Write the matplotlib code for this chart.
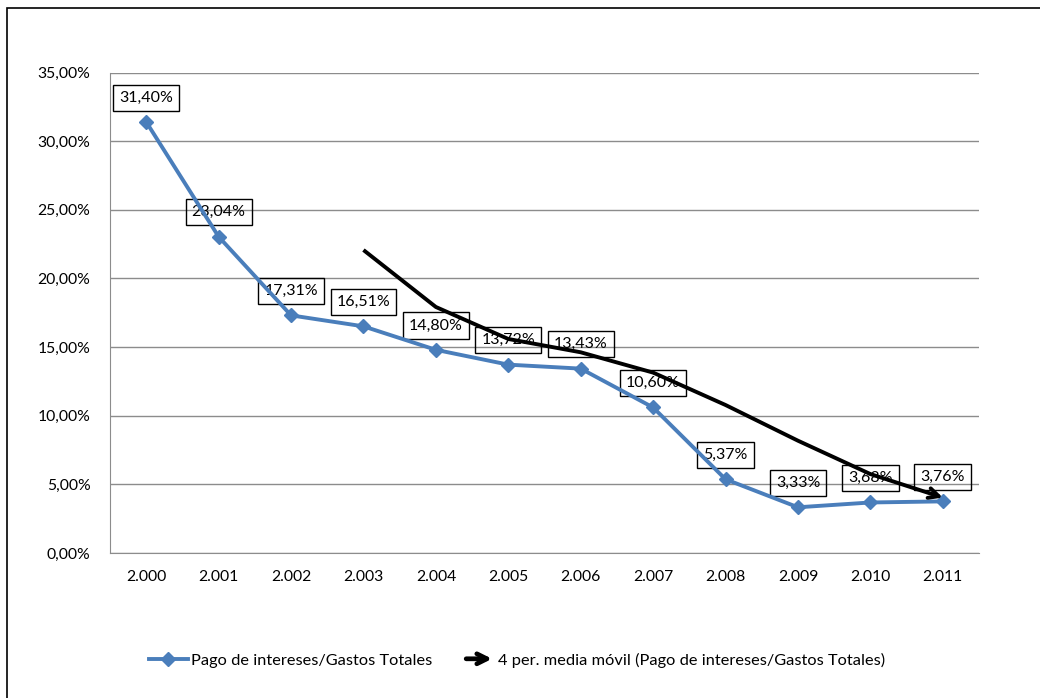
import matplotlib
matplotlib.use("Agg")
import matplotlib.pyplot as plt
from matplotlib.lines import Line2D
from matplotlib.patches import FancyArrowPatch, Rectangle
from matplotlib.legend_handler import HandlerBase
from matplotlib.ticker import FuncFormatter, MultipleLocator

plt.rcParams['font.family'] = ['Lato', 'DejaVu Sans']

years = ["2.000", "2.001", "2.002", "2.003", "2.004", "2.005",
         "2.006", "2.007", "2.008", "2.009", "2.010", "2.011"]
pago = [31.40, 23.04, 17.31, 16.51, 14.80, 13.72, 13.43, 10.60, 5.37, 3.33, 3.68, 3.76]
labels = ["31,40%", "23,04%", "17,31%", "16,51%", "14,80%", "13,72%",
          "13,43%", "10,60%", "5,37%", "3,33%", "3,68%", "3,76%"]
# media movil de 4 periodos, desde 2.003
ma_x = [3, 4, 5, 6, 7, 8, 9, 10, 11]
ma = [22.07, 17.92, 15.59, 14.62, 13.14, 10.78, 8.18, 5.75, 4.04]

blue = "#4A7EBB"
grid_c = "#8C8C8C"

fig = plt.figure(figsize=(10.4, 6.98), dpi=100)
ax = fig.add_axes([110/1040, 1-553/698, (979-110)/1040, (553-72.5)/698])

x = list(range(len(years)))
ax.plot(x, pago, color=blue, lw=2.8, marker='D', ms=7.5, zorder=3)

# media movil con flecha en el último tramo
ax.plot(ma_x[:-1], ma[:-1], color='black', lw=2.8, zorder=4, solid_capstyle='butt')
ax.annotate("", xy=(ma_x[-1], ma[-1]), xytext=(ma_x[-2], ma[-2]),
            arrowprops=dict(arrowstyle='->', color='black', lw=2.8,
                            shrinkA=0, shrinkB=0, mutation_scale=18),
            zorder=4)

for xi, yi, lab in zip(x, pago, labels):
    ax.annotate(lab, (xi, yi), xytext=(0, 17.5), textcoords='offset points',
                ha='center', va='center', fontsize=11.5, zorder=2,
                bbox=dict(boxstyle='square,pad=0.38', fc='none', ec='black', lw=1))

ax.set_xlim(-0.5, 11.5)
ax.set_ylim(0, 35)
ax.yaxis.set_major_locator(MultipleLocator(5))
ax.yaxis.set_major_formatter(FuncFormatter(lambda v, p: f"{v:.2f}".replace('.', ',') + "%"))
ax.set_xticks(x)
ax.set_xticklabels(years)
ax.tick_params(axis='both', length=0, labelsize=11.3, pad=12)
ax.tick_params(axis='y', pad=14)
ax.yaxis.grid(True, color=grid_c, lw=1)
ax.set_axisbelow(True)
for s in ['top', 'right']:
    ax.spines[s].set_visible(False)
ax.spines['left'].set_color(grid_c)
ax.spines['bottom'].set_color(grid_c)


class ArrowHandler(HandlerBase):
    def create_artists(self, legend, orig_handle, xdescent, ydescent,
                       width, height, fontsize, trans):
        y = height / 2 - ydescent
        arr = FancyArrowPatch((width * 0.2, y), (width, y), arrowstyle='->',
                              mutation_scale=18, lw=3.4, color='black',
                              transform=trans)
        return [arr]


h1 = Line2D([], [], color=blue, lw=2.8, marker='D', ms=7)
h2 = FancyArrowPatch((0, 0), (1, 1))
fig.legend([h1, h2],
           ["Pago de intereses/Gastos Totales",
            "4 per. media móvil (Pago de intereses/Gastos Totales)"],
           handler_map={FancyArrowPatch: ArrowHandler()},
           loc='center', bbox_to_anchor=(517/1040, 1-660/698), ncol=2,
           frameon=False, fontsize=11.8, handlelength=2.4, handletextpad=0.2,
           columnspacing=1.4)

fig.patches.append(Rectangle((7/1040, -0.05), 1.1, 1-8/698+0.05,
                             transform=fig.transFigure, fill=False,
                             ec='black', lw=1.2))

fig.savefig("out.png", dpi=100)
